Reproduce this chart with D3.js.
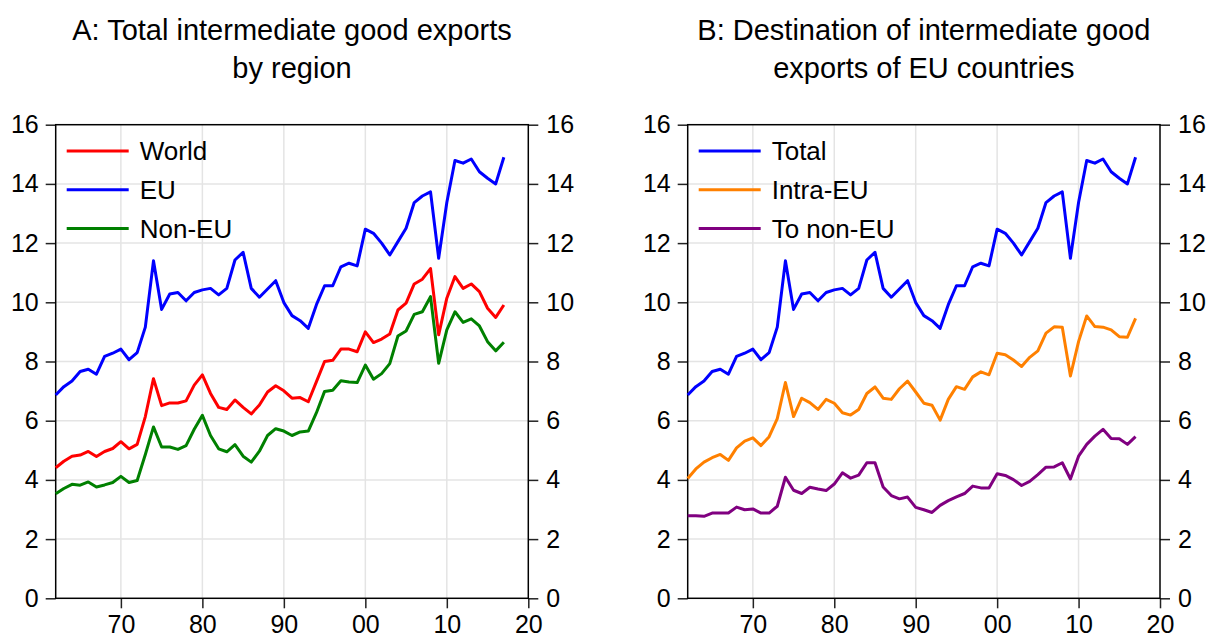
<!DOCTYPE html>
<html><head><meta charset="utf-8">
<script src="https://cdn.jsdelivr.net/npm/d3@7"></script>
<style>
body{margin:0;background:#fff;}
svg{display:block;font-family:"Liberation Sans",Arial,sans-serif;}
</style></head>
<body><svg id="c" width="1209" height="640"></svg>
<script>
const years = [1962,1963,1964,1965,1966,1967,1968,1969,1970,1971,1972,1973,1974,1975,1976,1977,1978,1979,1980,1981,1982,1983,1984,1985,1986,1987,1988,1989,1990,1991,1992,1993,1994,1995,1996,1997,1998,1999,2000,2001,2002,2003,2004,2005,2006,2007,2008,2009,2010,2011,2012,2013,2014,2015,2016,2017];
const world = [4.41,4.63,4.80,4.84,4.96,4.79,4.96,5.06,5.29,5.05,5.20,6.14,7.42,6.51,6.60,6.60,6.67,7.20,7.55,6.92,6.45,6.38,6.70,6.45,6.23,6.53,6.97,7.18,7.01,6.76,6.78,6.64,7.32,8.00,8.04,8.42,8.42,8.33,9.00,8.64,8.76,8.93,9.74,9.97,10.62,10.78,11.14,8.90,10.14,10.87,10.47,10.62,10.36,9.80,9.49,9.91];
const eu = [6.87,7.15,7.34,7.66,7.74,7.57,8.17,8.28,8.42,8.06,8.30,9.16,11.40,9.76,10.28,10.33,10.05,10.33,10.42,10.47,10.25,10.47,11.43,11.69,10.47,10.17,10.45,10.73,9.99,9.55,9.38,9.12,9.92,10.56,10.56,11.20,11.32,11.23,12.47,12.33,12.00,11.60,12.05,12.50,13.37,13.59,13.73,11.49,13.37,14.79,14.70,14.84,14.41,14.19,14.00,14.90];
const nonEU = [3.53,3.71,3.85,3.82,3.93,3.76,3.83,3.91,4.12,3.91,3.98,4.86,5.79,5.11,5.11,5.03,5.16,5.71,6.18,5.50,5.05,4.95,5.19,4.80,4.60,4.97,5.50,5.73,5.65,5.50,5.62,5.65,6.27,6.99,7.03,7.35,7.31,7.29,7.88,7.40,7.59,7.93,8.86,9.03,9.59,9.68,10.19,7.94,9.07,9.68,9.32,9.44,9.20,8.67,8.36,8.65];
const total = [6.87,7.15,7.34,7.66,7.74,7.57,8.17,8.28,8.42,8.06,8.30,9.16,11.40,9.76,10.28,10.33,10.05,10.33,10.42,10.47,10.25,10.47,11.43,11.69,10.47,10.17,10.45,10.73,9.99,9.55,9.38,9.12,9.92,10.56,10.56,11.20,11.32,11.23,12.47,12.33,12.00,11.60,12.05,12.50,13.37,13.59,13.73,11.49,13.37,14.79,14.70,14.84,14.41,14.19,14.00,14.90];
const intraEU = [4.05,4.37,4.60,4.75,4.86,4.66,5.08,5.31,5.42,5.16,5.46,6.07,7.29,6.14,6.76,6.61,6.38,6.72,6.59,6.27,6.19,6.38,6.92,7.14,6.76,6.72,7.08,7.34,6.97,6.59,6.52,6.02,6.72,7.15,7.06,7.48,7.65,7.55,8.28,8.23,8.05,7.83,8.14,8.36,8.96,9.17,9.16,7.51,8.67,9.54,9.18,9.16,9.07,8.84,8.82,9.46];
const toNonEU = [2.79,2.79,2.77,2.88,2.88,2.88,3.08,2.99,3.02,2.88,2.88,3.11,4.09,3.65,3.54,3.75,3.69,3.64,3.86,4.24,4.06,4.16,4.58,4.58,3.76,3.47,3.36,3.42,3.07,2.99,2.90,3.14,3.30,3.43,3.54,3.79,3.73,3.73,4.21,4.15,4.01,3.81,3.95,4.18,4.43,4.44,4.58,4.03,4.80,5.20,5.48,5.71,5.40,5.39,5.20,5.46];
const xTickYears = [1970,1980,1990,2000,2010,2020];
const xTickLabels = ["70","80","90","00","10","20"];
const yTicks = [0,2,4,6,8,10,12,14,16];
const titlesA = ["A: Total intermediate good exports","by region"];
const titlesB = ["B: Destination of intermediate good","exports of EU countries"];
const namesA = ["World","EU","Non-EU"];
const namesB = ["Total","Intra-EU","To non-EU"];
const colorsA = ["#ff0000","#0000ff","#008000"];
const colorsB = ["#0000ff","#ff8000","#800080"];

const svg = d3.select("#c");

function panel(left, right, titles, names, colors, series) {
  const top = 124.7, bottom = 598.3;
  const x = d3.scaleLinear().domain([1962, 2020]).range([left, right]);
  const y = d3.scaleLinear().domain([0, 16]).range([bottom, top]);
  const g = svg.append("g");
  const cx = (left + right) / 2;
  // titles
  g.append("text").attr("x", cx).attr("y", 40).attr("text-anchor", "middle")
    .attr("font-size", 29).attr("fill", "#000").text(titles[0]);
  g.append("text").attr("x", cx).attr("y", 78).attr("text-anchor", "middle")
    .attr("font-size", 29).attr("fill", "#000").text(titles[1]);
  // grid
  g.selectAll(".hg").data(yTicks.slice(1, -1)).enter().append("line")
    .attr("x1", left).attr("x2", right).attr("y1", d => y(d)).attr("y2", d => y(d))
    .attr("stroke", "#e4e4e4").attr("stroke-width", 1.5);
  g.selectAll(".vg").data(xTickYears.slice(0, -1)).enter().append("line")
    .attr("y1", top).attr("y2", bottom).attr("x1", d => x(d)).attr("x2", d => x(d))
    .attr("stroke", "#e4e4e4").attr("stroke-width", 1.5);
  // axes
  const fmtX = d => xTickLabels[xTickYears.indexOf(d)];
  const ax = g.append("g").attr("transform", `translate(0,${bottom})`)
    .call(d3.axisBottom(x).tickValues(xTickYears).tickFormat(fmtX).tickSize(10).tickPadding(7).tickSizeOuter(0));
  const ayl = g.append("g").attr("transform", `translate(${left},0)`)
    .call(d3.axisLeft(y).tickValues(yTicks).tickSize(10).tickPadding(7).tickSizeOuter(0));
  const ayr = g.append("g").attr("transform", `translate(${right},0)`)
    .call(d3.axisRight(y).tickValues(yTicks).tickSize(10).tickPadding(8).tickSizeOuter(0));
  [ax, ayl, ayr].forEach(a => {
    a.select(".domain").remove();
    a.selectAll("line").attr("stroke", "#222").attr("stroke-width", 1.5);
    a.selectAll("text").attr("font-size", 25).attr("fill", "#000")
      .attr("font-family", '"Liberation Sans",Arial,sans-serif');
  });
  // frame
  g.append("rect").attr("x", left).attr("y", top).attr("width", right - left).attr("height", bottom - top)
    .attr("fill", "none").attr("stroke", "#000").attr("stroke-width", 1.5);
  // lines
  const line = d3.line().x((d, i) => x(years[i])).y(d => y(d));
  series.forEach((s, k) => {
    g.append("path").datum(s).attr("d", line).attr("fill", "none")
      .attr("stroke", colors[k]).attr("stroke-width", 3).attr("stroke-linejoin", "round");
  });
  // legend
  names.forEach((n, k) => {
    const ly = 151 + k * 38.7;
    g.append("line").attr("x1", left + 11).attr("x2", left + 73).attr("y1", ly).attr("y2", ly)
      .attr("stroke", colors[k]).attr("stroke-width", 3);
    g.append("text").attr("x", left + 84).attr("y", ly).attr("dy", "0.36em")
      .attr("font-size", 26).attr("fill", "#000").text(n);
  });
}

panel(55.7, 528.3, titlesA, namesA, colorsA, [world, eu, nonEU]);
panel(687.7, 1160, titlesB, namesB, colorsB, [total, intraEU, toNonEU]);
</script></body></html>
